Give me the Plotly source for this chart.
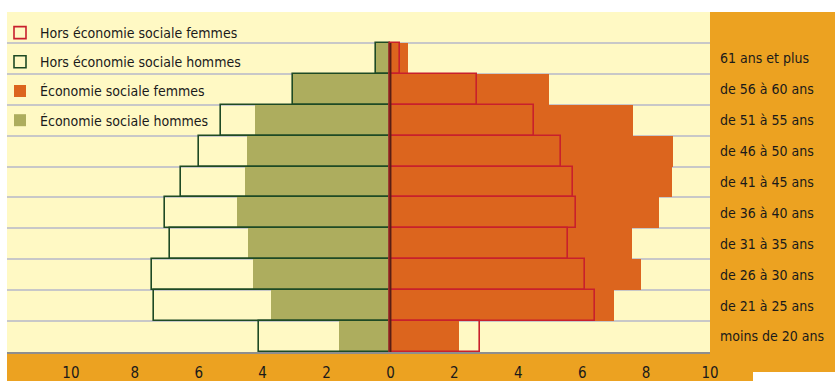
import plotly.graph_objects as go

categories = ["moins de 20 ans", "de 21 à 25 ans", "de 26 à 30 ans", "de 31 à 35 ans",
              "de 36 à 40 ans", "de 41 à 45 ans", "de 46 à 50 ans", "de 51 à 55 ans",
              "de 56 à 60 ans", "61 ans et plus"]
es_hommes = [1.6, 3.75, 4.3, 4.45, 4.8, 4.55, 4.5, 4.25, 3.05, 0.45]
hors_hommes = [4.1, 7.4, 7.45, 6.9, 7.05, 6.55, 6.0, 5.3, 3.05, 0.45]
es_femmes = [2.15, 7.0, 7.85, 7.55, 8.4, 8.8, 8.85, 7.6, 4.95, 0.55]
hors_femmes = [2.8, 6.4, 6.1, 5.55, 5.8, 5.7, 5.35, 4.5, 2.7, 0.3]
tick_vals = [-10, -8, -6, -4, -2, 0, 2, 4, 6, 8, 10]
tick_text = ["10", "8", "6", "4", "2", "0", "2", "4", "6", "8", "10"]

FONT = "Liberation Sans Narrow, Arial Narrow, DejaVu Sans Condensed, sans-serif"
CREAM = "#FFF9C4"
ORANGE = "#ECA221"

fig = go.Figure()
fig.add_trace(go.Bar(y=categories, x=[-v for v in es_hommes], orientation="h",
                     name="Économie sociale hommes", legendgroup="a", legendrank=4,
                     marker=dict(color="#ADAD5E", line=dict(width=0))))
fig.add_trace(go.Bar(y=categories, x=es_femmes, orientation="h",
                     name="Économie sociale femmes", legendgroup="b", legendrank=3,
                     marker=dict(color="#DC651E", line=dict(width=0))))
fig.add_trace(go.Bar(y=categories, x=[-v for v in hors_hommes], orientation="h",
                     name="Hors économie sociale hommes", legendgroup="c", legendrank=2,
                     marker=dict(color="rgba(0,0,0,0)", line=dict(color="#1E4A24", width=1.6))))
fig.add_trace(go.Bar(y=categories, x=hors_femmes, orientation="h",
                     name="Hors économie sociale femmes", legendgroup="d", legendrank=1,
                     marker=dict(color="rgba(0,0,0,0)", line=dict(color="#C8202C", width=1.6))))

W, H = 835, 381
L, R, T, B = 7, 125, 12, 29
pw, ph = W - L - R, H - T - B
def px(X):
    return (X - L) / pw
def py(Y):
    return (H - B - Y) / ph

shapes = [
    dict(type="rect", xref="paper", yref="paper", x0=px(-5), x1=px(W + 5), y0=py(T), y1=py(-5),
         fillcolor="white", line=dict(width=0), layer="below"),
    dict(type="rect", xref="paper", yref="paper", x0=px(-5), x1=px(L), y0=py(H + 5), y1=py(-5),
         fillcolor="white", line=dict(width=0), layer="below"),
    dict(type="rect", xref="paper", yref="paper", x0=px(753), x1=px(W + 5), y0=py(H + 5), y1=py(372),
         fillcolor="white", line=dict(width=0), layer="below"),
    # legend backdrop hiding gridlines (below the bars)
    dict(type="rect", xref="paper", yref="paper", x0=px(13), x1=px(247), y0=py(134), y1=py(14),
         fillcolor=CREAM, line=dict(width=0), layer="between"),
    dict(type="line", xref="x", yref="y", x0=0, x1=0, y0=-0.5, y1=9.5,
         line=dict(color="#5A1E14", width=2), layer="above"),
]

fig.update_layout(
    width=W, height=H,
    margin=dict(l=L, r=R, t=T, b=B, pad=0, autoexpand=False),
    paper_bgcolor=ORANGE, plot_bgcolor=CREAM,
    barmode="overlay", bargap=0,
    showlegend=True,
    legend=dict(x=px(0), y=py(17), xanchor="left", yanchor="top",
                bgcolor="rgba(0,0,0,0)", borderwidth=0,
                traceorder="grouped", tracegroupgap=8, itemwidth=30,
                font=dict(family=FONT, size=14, color="#1a1a1a")),
    font=dict(family=FONT, size=14, color="#1a1a1a"),
    xaxis=dict(range=[-12, 10], tickvals=tick_vals, ticktext=tick_text, automargin=False,
               showgrid=False, zeroline=False, showline=True, linecolor="#8E8E8E", linewidth=1.5,
               ticks="", ticklabelstandoff=6, tickfont=dict(family=FONT, size=15, color="#1a1a1a"),
               fixedrange=True),
    yaxis=dict(type="category", categoryorder="array", categoryarray=categories, automargin=False,
               range=[-0.5, 10.5], side="right", tickson="boundaries",
               showgrid=True, gridcolor="#C8C8C8", gridwidth=1.5,
               ticks="", ticklabelstandoff=9, zeroline=False, showline=False,
               tickfont=dict(family=FONT, size=14, color="#1a1a1a"), fixedrange=True),
    shapes=shapes,
    hovermode=False,
)

fig.write_html("out.html")
